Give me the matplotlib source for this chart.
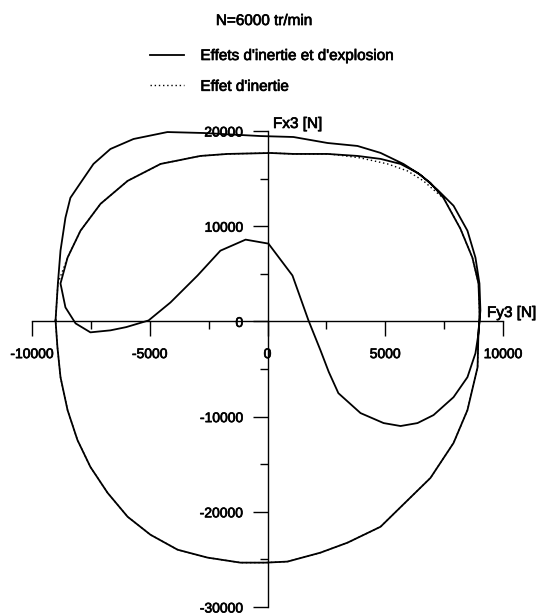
import numpy as np
import matplotlib.pyplot as plt
import matplotlib.patheffects as pe
from matplotlib.ticker import MultipleLocator

plt.rcParams['font.family'] = ['Liberation Sans', 'DejaVu Sans']

# upper arc of the gas+inertia force (left -> right)
outer_fy = [-9000, -8900, -8790, -8580, -8370, -7940, -7390, -6670, -5690, -4250,
            -2720, -300, 1100, 2550, 3820, 4800, 5770, 6500, 7220, 7900,
            8490, 8830, 9000, 9040, 9000]
outer_fx = [100, 4000, 7430, 10890, 12980, 14550, 16540, 18110, 19160, 19890,
            19790, 19470, 19370, 18740, 18430, 17700, 16540, 15390, 13820, 12150,
            9530, 6700, 3980, 1150, 0]

# combustion loop (right -> left)
loop_fy = [8960, 8830, 8490, 7900, 7050, 6370, 5650, 4930, 3950, 3010,
           2600, 2250, 1740, 1060, 40, -930, -2000, -2970, -4120, -5050,
           -6000, -6670, -7520, -8150, -8580, -8790]
loop_fx = [-1260, -3350, -5860, -7960, -9840, -10680, -10990, -10680, -9630, -7540,
           -5300, -3040, 100, 4820, 8170, 8590, 7430, 4820, 1990, 100,
           -600, -940, -1150, -210, 1470, 3980]

# inner upper arc, with explosion (left -> right)
inner_fy = [-8490, -7940, -7090, -5940, -4540, -2850, -1700, 130, 1100, 2550,
            3820, 4800, 5650, 6370, 6920, 7470, 8190, 8700, 8960, 9000, 9000]
inner_fx = [6700, 9530, 12350, 14760, 16540, 17380, 17590, 17690, 17590, 17590,
            17380, 17070, 16540, 15600, 14550, 12980, 9740, 6700, 3980, 1150, 0]

# inner upper arc, inertia only (left -> right)
inertia_fy = [-8900, -8490, -7940, -7090, -5940, -4540, -2850, -1700, 130, 1100,
              2550, 2970, 3950, 5100, 5940, 6620, 7350, 7470, 8190, 8700,
              8960, 9000, 9000]
inertia_fx = [4000, 6700, 9530, 12350, 14760, 16540, 17380, 17590, 17690, 17590,
              17590, 17490, 17170, 16540, 15810, 14760, 13190, 12980, 9740, 6700,
              3980, 1150, 0]

# lower arc, common to both (right -> left)
bottom_fy = [8960, 8920, 8490, 7900, 6920, 4800, 3400, 2250, 850, -80,
             -1150, -2550, -3820, -4970, -5940, -6790, -7520, -8070, -8490, -8790,
             -8920, -9000]
bottom_fx = [-940, -4820, -9320, -12770, -16440, -21570, -23240, -24290, -25230, -25340,
             -25340, -24810, -23980, -22410, -20520, -18010, -15290, -12460, -9320, -5860,
             -2720, 100]

x_ticks = [-10000, -5000, 0, 5000, 10000]
y_ticks = [-30000, -20000, -10000, 0, 10000, 20000]

gas_y = np.concatenate([outer_fy, loop_fy, inner_fy, bottom_fy, outer_fy[:1]])
gas_x = np.concatenate([outer_fx, loop_fx, inner_fx, bottom_fx, outer_fx[:1]])
ine_y = np.concatenate([inertia_fy, bottom_fy, inertia_fy[:1]])
ine_x = np.concatenate([inertia_fx, bottom_fx, inertia_fx[:1]])

# scanned-print look: slightly heavier glyphs
ink = [pe.withStroke(linewidth=0.5, foreground='black')]

fig = plt.figure(figsize=(5.36, 6.15), dpi=100)
ax = fig.add_axes([32/536, 8/615, 471/536, 476/615])

l2, = ax.plot(ine_y, ine_x, color='black', lw=1.0, ls=(0, (1, 2)), zorder=2,
              label="Effet d'inertie")
l1, = ax.plot(gas_y, gas_x, color='black', lw=1.3, zorder=3,
              label="Effets d'inertie et d'explosion")

ax.set_xlim(-10000, 10000)
ax.set_ylim(-30000, 20000)
for s in ['top', 'right']:
    ax.spines[s].set_visible(False)
ax.spines['left'].set_position(('data', 0))
ax.spines['bottom'].set_position(('data', 0))
for s in ['left', 'bottom']:
    ax.spines[s].set_linewidth(1.0)
ax.xaxis.set_ticks_position('bottom')
ax.yaxis.set_ticks_position('left')
ax.set_xticks(x_ticks)
ax.set_yticks(y_ticks)
ax.set_xticklabels([str(v) for v in x_ticks])
ax.set_yticklabels([str(v) for v in y_ticks])
ax.xaxis.set_minor_locator(MultipleLocator(2500))
ax.yaxis.set_minor_locator(MultipleLocator(5000))
ax.tick_params(which='major', direction='out', length=10.5, width=1.0, labelsize=10)
ax.tick_params(which='minor', direction='out', length=5.5, width=1.0)
ax.tick_params(axis='x', pad=8)
ax.tick_params(axis='y', pad=7)
for t in ax.get_xticklabels() + ax.get_yticklabels():
    t.set_path_effects(ink)
ax.patch.set_visible(False)

fig.text(273/536, 1 - 124/615, 'Fx3 [N]', fontsize=11, ha='left', va='center',
         path_effects=ink)
fig.text(487/536, 1 - 313/615, 'Fy3 [N]', fontsize=11, ha='left', va='center',
         path_effects=ink)
fig.text(264/536, 1 - 21/615, 'N=6000 tr/min', fontsize=11, ha='center', va='center',
         path_effects=ink)

leg = fig.legend(handles=[l1, l2], loc='upper left', bbox_to_anchor=(150/536, 1 - 49/615),
                 frameon=False, fontsize=11, handlelength=2.2, handletextpad=1.1,
                 labelspacing=1.1, borderpad=0, borderaxespad=0)
for t in leg.get_texts():
    t.set_path_effects(ink)

fig.savefig('out.png', dpi=100)
